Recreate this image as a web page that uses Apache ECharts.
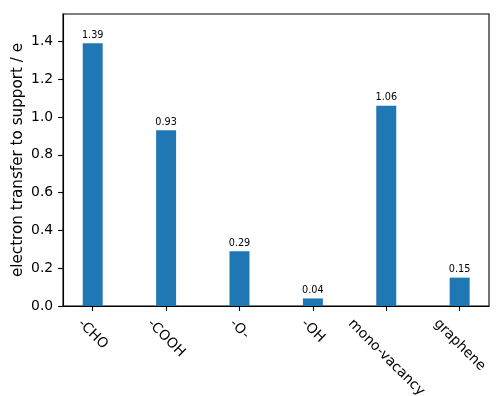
<!DOCTYPE html>
<html>
<head>
<meta charset="utf-8">
<script src="https://cdn.jsdelivr.net/npm/echarts@6/dist/echarts.min.js"></script>
<style>html,body{margin:0;padding:0;background:#fff}#c{width:500px;height:396px}</style>
</head>
<body>
<div id="c"></div>
<script>
const categories = ['-CHO', '-COOH', '-O-', '-OH', 'mono-vacancy', 'graphene'];
const values = [1.39, 0.93, 0.29, 0.04, 1.06, 0.15];
const yTicks = [0, 0.2, 0.4, 0.6, 0.8, 1.0, 1.2, 1.4];
const yName = 'electron transfer to support / e';

const FONT = 'DejaVu Sans';
const TICK_FS = 13.9;
const chart = echarts.init(document.getElementById('c'), null, {renderer: 'canvas'});
const xPos = categories.map((c, i) => i);
chart.setOption({
  animation: false,
  grid: {left: 63, right: 11, top: 14, bottom: 90, containLabel: false, outerBoundsMode: 'none',
         show: true, borderColor: '#000', borderWidth: 1.1, backgroundColor: 'transparent'},
  xAxis: {
    type: 'value', min: -0.405, max: 5.4,
    axisLine: {show: true, onZero: false, lineStyle: {color: '#000', width: 1.1}},
    axisTick: {show: true, customValues: xPos, length: 4.9, lineStyle: {color: '#000', width: 1.1}},
    axisLabel: {show: false},
    splitLine: {show: false}
  },
  yAxis: {
    type: 'value', min: 0, max: 1.545,
    name: yName, nameLocation: 'middle', nameGap: 37, nameMoveOverlap: false,
    nameTextStyle: {fontFamily: FONT, fontSize: 15.2, color: '#000'},
    axisLine: {show: true, onZero: false, lineStyle: {color: '#000', width: 1.1}},
    axisTick: {show: true, customValues: yTicks, length: 4.9, lineStyle: {color: '#000', width: 1.1}},
    axisLabel: {customValues: yTicks, margin: 9.8, fontFamily: FONT, fontSize: TICK_FS, color: '#000', formatter: v => v.toFixed(1)},
    splitLine: {show: false}
  },
  series: [{
    type: 'bar',
    data: values.map((v, i) => [i, v]),
    barWidth: 20,
    itemStyle: {color: '#1f77b4', borderWidth: 0},
    label: {show: true, position: 'top', distance: 3, fontFamily: FONT, fontSize: 9.7, color: '#000', formatter: p => p.value[1].toFixed(2)}
  }]
});

// rotated category labels, centered under each tick like matplotlib's rotation=-45
const ctx = document.createElement('canvas').getContext('2d');
ctx.font = TICK_FS + 'px "' + FONT + '"';
const y0 = chart.convertToPixel({yAxisIndex: 0}, 0);
const h = TICK_FS * 1.16;
const s = Math.SQRT1_2;
const graphics = categories.map((c, i) => {
  const x = chart.convertToPixel({xAxisIndex: 0}, i);
  const w = ctx.measureText(c).width;
  const cy = y0 + 9.8 + (w + h) * s / 2;
  return {
    type: 'text', x: x, y: cy, rotation: -Math.PI / 4,
    style: {text: c, fontFamily: FONT, fontSize: TICK_FS, fill: '#000', align: 'center', verticalAlign: 'middle'}
  };
});
chart.setOption({graphic: graphics});
</script>
</body>
</html>
